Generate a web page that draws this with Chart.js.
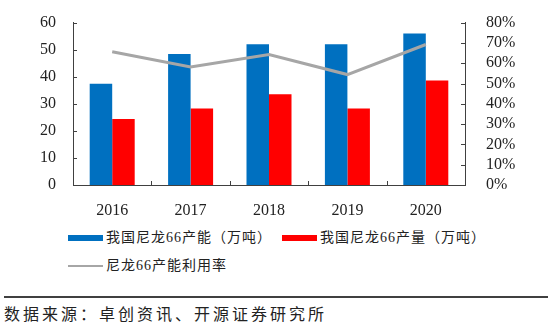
<!DOCTYPE html>
<html>
<head>
<meta charset="utf-8">
<script src="https://cdn.jsdelivr.net/npm/chart.js@4/dist/chart.umd.min.js"></script>
<style>
  body { margin: 0; width: 554px; height: 329px; background: #fff; position: relative; overflow: hidden;
         font-family: "Liberation Serif", "Noto Sans CJK SC", serif; color: #222; }
  #wrap { position: absolute; left: 0; top: 0; width: 554px; height: 222px; }
  .leg { position: absolute; font-size: 14px; letter-spacing: 1px; line-height: 16px; white-space: nowrap; }
  .box { position: absolute; height: 6px; width: 35px; }
  #rule { position: absolute; left: 4px; top: 296px; width: 544px; height: 2px; background: #404040; }
  #src { position: absolute; left: 4px; top: 305px; font-size: 16px; letter-spacing: 3px; line-height: 20px; white-space: nowrap; }
</style>
</head>
<body>
<div id="wrap"><canvas id="c"></canvas></div>

<div class="box" style="left:68px;top:235px;background:#0070C0"></div>
<div class="leg" style="left:106px;top:230px">我国尼龙66产能（万吨）</div>
<div class="box" style="left:282px;top:235px;background:#FF0000"></div>
<div class="leg" style="left:320px;top:230px">我国尼龙66产量（万吨）</div>
<div class="box" style="left:68px;top:265px;height:2px;background:#A6A6A6"></div>
<div class="leg" style="left:106px;top:258px">尼龙66产能利用率</div>

<div id="rule"></div>
<div id="src">数据来源：卓创资讯、开源证券研究所</div>

<script>
const years = ["2016", "2017", "2018", "2019", "2020"]
const capacity = [37.4, 48.4, 52.0, 52.0, 56.0]
const output = [24.4, 28.3, 33.5, 28.3, 38.6]
const utilization = [0.656, 0.581, 0.643, 0.544, 0.692]

const axisColor = "#404040"
const tickFont = { family: "Liberation Serif", size: 16 }

// short tick marks pointing into the plot
const innerTicks = {
    id: "innerTicks",
    afterDraw(chart) {
        const ctx = chart.ctx
        const a = chart.chartArea
        ctx.save()
        ctx.strokeStyle = axisColor
        ctx.lineWidth = 1
        ctx.beginPath()
        const y = chart.scales.y, y1 = chart.scales.y1, x = chart.scales.x
        y.ticks.forEach(t => {
            const p = Math.round(y.getPixelForValue(t.value)) + 0.5
            ctx.moveTo(a.left, p); ctx.lineTo(a.left + 4, p)
        })
        y1.ticks.forEach(t => {
            const p = Math.round(y1.getPixelForValue(t.value)) + 0.5
            ctx.moveTo(a.right, p); ctx.lineTo(a.right - 4, p)
        })
        for (let i = 1; i < years.length; i++) {
            const p = Math.round((x.getPixelForValue(i - 1) + x.getPixelForValue(i)) / 2) + 0.5
            ctx.moveTo(p, a.bottom); ctx.lineTo(p, a.bottom - 4)
        }
        ctx.stroke()
        ctx.restore()
    }
}

new Chart(document.getElementById("c"), {
    type: "bar",
    data: {
        labels: years,
        datasets: [
            {
                type: "line",
                label: "尼龙66产能利用率",
                data: utilization,
                yAxisID: "y1",
                borderColor: "#A6A6A6",
                borderWidth: 3,
                pointRadius: 0,
                tension: 0,
                order: 0
            },
            {
                label: "我国尼龙66产能（万吨）",
                data: capacity,
                backgroundColor: "#0070C0",
                yAxisID: "y",
                order: 1
            },
            {
                label: "我国尼龙66产量（万吨）",
                data: output,
                backgroundColor: "#FF0000",
                yAxisID: "y",
                order: 1
            }
        ]
    },
    options: {
        responsive: true,
        maintainAspectRatio: false,
        animation: false,
        categoryPercentage: 0.574,
        barPercentage: 1.0,
        layout: { padding: { top: 5 } },
        plugins: { legend: { display: false }, tooltip: { enabled: false } },
        scales: {
            x: {
                grid: { display: false },
                border: { color: axisColor, width: 1 },
                ticks: { font: tickFont, color: "#222", padding: 8 },
                afterFit: s => { s.height = 37 }
            },
            y: {
                position: "left",
                min: 0, max: 60,
                grid: { display: false },
                border: { color: axisColor, width: 1 },
                ticks: { stepSize: 10, autoSkip: false, font: tickFont, color: "#222", padding: 9 },
                afterFit: s => { s.width = 73 }
            },
            y1: {
                position: "right",
                min: 0, max: 0.8,
                grid: { display: false },
                border: { color: axisColor, width: 1 },
                ticks: {
                    stepSize: 0.1, autoSkip: false, font: tickFont, color: "#222", padding: 13,
                    callback: v => Math.round(v * 100) + "%"
                },
                afterFit: s => { s.width = 89 }
            }
        }
    },
    plugins: [innerTicks]
})
</script>
</body>
</html>
